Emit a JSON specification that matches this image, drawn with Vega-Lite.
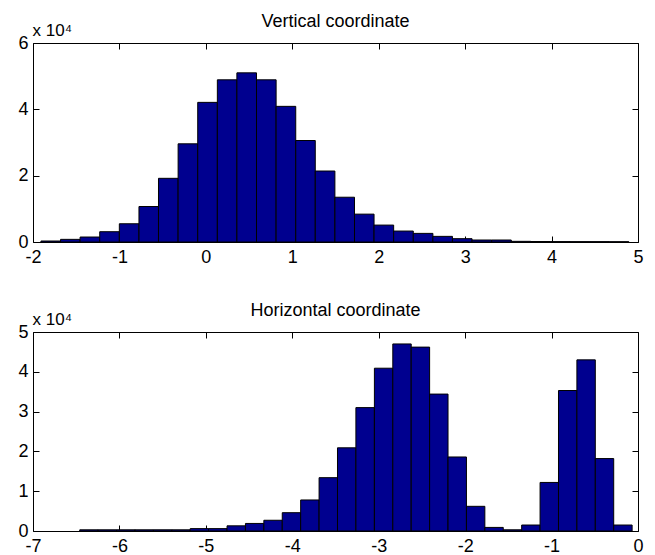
{
  "$schema": "https://vega.github.io/schema/vega-lite/v6.json",
  "background": "white",
  "padding": {"left": 17, "top": 12, "right": 10, "bottom": 0},
  "datasets": {
    "v": [
      {"x0": -1.908, "x1": -1.681, "count": 300},
      {"x0": -1.681, "x1": -1.455, "count": 800},
      {"x0": -1.455, "x1": -1.228, "count": 1500},
      {"x0": -1.228, "x1": -1.001, "count": 3100},
      {"x0": -1.001, "x1": -0.774, "count": 5500},
      {"x0": -0.774, "x1": -0.548, "count": 10700},
      {"x0": -0.548, "x1": -0.321, "count": 19200},
      {"x0": -0.321, "x1": -0.094, "count": 29600},
      {"x0": -0.094, "x1": 0.133, "count": 42100},
      {"x0": 0.133, "x1": 0.359, "count": 48900},
      {"x0": 0.359, "x1": 0.586, "count": 51000},
      {"x0": 0.586, "x1": 0.813, "count": 48900},
      {"x0": 0.813, "x1": 1.040, "count": 40900},
      {"x0": 1.040, "x1": 1.266, "count": 30600},
      {"x0": 1.266, "x1": 1.493, "count": 21400},
      {"x0": 1.493, "x1": 1.720, "count": 13500},
      {"x0": 1.720, "x1": 1.946, "count": 8400},
      {"x0": 1.946, "x1": 2.173, "count": 5100},
      {"x0": 2.173, "x1": 2.400, "count": 3300},
      {"x0": 2.400, "x1": 2.627, "count": 2600},
      {"x0": 2.627, "x1": 2.853, "count": 1700},
      {"x0": 2.853, "x1": 3.080, "count": 1000},
      {"x0": 3.080, "x1": 3.307, "count": 600},
      {"x0": 3.307, "x1": 3.534, "count": 600},
      {"x0": 3.534, "x1": 3.760, "count": 200},
      {"x0": 3.760, "x1": 3.987, "count": 150},
      {"x0": 3.987, "x1": 4.214, "count": 120},
      {"x0": 4.214, "x1": 4.441, "count": 100},
      {"x0": 4.441, "x1": 4.667, "count": 100},
      {"x0": 4.667, "x1": 4.894, "count": 80}
    ],
    "h": [
      {"x0": -6.459, "x1": -6.246, "count": 300},
      {"x0": -6.246, "x1": -6.033, "count": 300},
      {"x0": -6.033, "x1": -5.820, "count": 300},
      {"x0": -5.820, "x1": -5.607, "count": 300},
      {"x0": -5.607, "x1": -5.394, "count": 300},
      {"x0": -5.394, "x1": -5.181, "count": 300},
      {"x0": -5.181, "x1": -4.968, "count": 600},
      {"x0": -4.968, "x1": -4.755, "count": 600},
      {"x0": -4.755, "x1": -4.542, "count": 1300},
      {"x0": -4.542, "x1": -4.329, "count": 1900},
      {"x0": -4.329, "x1": -4.116, "count": 2700},
      {"x0": -4.116, "x1": -3.903, "count": 4600},
      {"x0": -3.903, "x1": -3.690, "count": 7800},
      {"x0": -3.690, "x1": -3.477, "count": 13400},
      {"x0": -3.477, "x1": -3.264, "count": 20900},
      {"x0": -3.264, "x1": -3.050, "count": 31000},
      {"x0": -3.050, "x1": -2.837, "count": 40900},
      {"x0": -2.837, "x1": -2.624, "count": 47000},
      {"x0": -2.624, "x1": -2.411, "count": 46200},
      {"x0": -2.411, "x1": -2.198, "count": 34400},
      {"x0": -2.198, "x1": -1.985, "count": 18600},
      {"x0": -1.985, "x1": -1.772, "count": 6200},
      {"x0": -1.772, "x1": -1.559, "count": 900},
      {"x0": -1.559, "x1": -1.346, "count": 300},
      {"x0": -1.346, "x1": -1.133, "count": 1500},
      {"x0": -1.133, "x1": -0.920, "count": 12200},
      {"x0": -0.920, "x1": -0.707, "count": 35300},
      {"x0": -0.707, "x1": -0.494, "count": 43000},
      {"x0": -0.494, "x1": -0.281, "count": 18200},
      {"x0": -0.281, "x1": -0.068, "count": 1500}
    ]
  },
  "config": {
    "font": "Liberation Sans",
    "view": {"stroke": "black", "strokeWidth": 1},
    "axis": {
      "grid": false,
      "domain": false,
      "tickColor": "black",
      "tickSize": -6,
      "labelColor": "black",
      "labelFontSize": 18,
      "labelFont": "Liberation Sans",
      "labelFlush": false,
      "labelOverlap": false,
      "labelBound": false
    },
    "axisX": {"labelPadding": 12},
    "axisY": {"labelPadding": 11},
    "title": {"fontSize": 18, "fontWeight": "normal", "font": "Liberation Sans", "color": "black", "frame": "group", "baseline": "alphabetic", "offset": -10},
    "concat": {"spacing": 34}
  },
  "vconcat": [
    {
      "width": 605,
      "height": 199,
      "title": {"text": "Vertical coordinate"},
      "data": {"name": "v"},
      "layer": [
        {
          "mark": {"type": "bar", "color": "#00008F", "stroke": "black", "strokeWidth": 1},
          "encoding": {
            "x": {"field": "x0", "type": "quantitative", "scale": {"domain": [-2, 5], "nice": false, "zero": false},
                  "axis": {"orient": "bottom", "values": [-2, -1, 0, 1, 2, 3, 4, 5], "title": null,
                           "labelExpr": "datum.value < 0 ? '-' + format(-datum.value, 'd') : format(datum.value, 'd')"}},
            "x2": {"field": "x1"},
            "y": {"field": "count", "type": "quantitative", "scale": {"domain": [0, 60000], "nice": false},
                  "axis": {"orient": "left", "values": [0, 20000, 40000, 60000], "labelExpr": "format(datum.value/10000, 'd')",
                           "title": "x 10⁴", "titleAngle": 0, "titleAlign": "left", "titleBaseline": "alphabetic",
                           "titleX": -1, "titleY": -8, "titleFontSize": 17, "titleFontWeight": "normal", "titleColor": "black"}},
            "y2": {"datum": 0}
          }
        },
        {
          "mark": {"type": "bar", "opacity": 0},
          "encoding": {
            "x": {"field": "x0", "type": "quantitative", "axis": {"orient": "top", "values": [-2, -1, 0, 1, 2, 3, 4, 5], "labels": false, "title": null}},
            "x2": {"field": "x1"},
            "y": {"field": "count", "type": "quantitative", "axis": {"orient": "right", "values": [0, 20000, 40000, 60000], "labels": false, "title": null}},
            "y2": {"datum": 0}
          }
        }
      ],
      "resolve": {"axis": {"x": "independent", "y": "independent"}}
    },
    {
      "width": 605,
      "height": 199,
      "title": {"text": "Horizontal coordinate"},
      "data": {"name": "h"},
      "layer": [
        {
          "mark": {"type": "bar", "color": "#00008F", "stroke": "black", "strokeWidth": 1},
          "encoding": {
            "x": {"field": "x0", "type": "quantitative", "scale": {"domain": [-7, 0], "nice": false, "zero": false},
                  "axis": {"orient": "bottom", "values": [-7, -6, -5, -4, -3, -2, -1, 0], "title": null,
                           "labelExpr": "datum.value < 0 ? '-' + format(-datum.value, 'd') : format(datum.value, 'd')"}},
            "x2": {"field": "x1"},
            "y": {"field": "count", "type": "quantitative", "scale": {"domain": [0, 50000], "nice": false},
                  "axis": {"orient": "left", "values": [0, 10000, 20000, 30000, 40000, 50000], "labelExpr": "format(datum.value/10000, 'd')",
                           "title": "x 10⁴", "titleAngle": 0, "titleAlign": "left", "titleBaseline": "alphabetic",
                           "titleX": -1, "titleY": -8, "titleFontSize": 17, "titleFontWeight": "normal", "titleColor": "black"}},
            "y2": {"datum": 0}
          }
        },
        {
          "mark": {"type": "bar", "opacity": 0},
          "encoding": {
            "x": {"field": "x0", "type": "quantitative", "axis": {"orient": "top", "values": [-7, -6, -5, -4, -3, -2, -1, 0], "labels": false, "title": null}},
            "x2": {"field": "x1"},
            "y": {"field": "count", "type": "quantitative", "axis": {"orient": "right", "values": [0, 10000, 20000, 30000, 40000, 50000], "labels": false, "title": null}},
            "y2": {"datum": 0}
          }
        }
      ],
      "resolve": {"axis": {"x": "independent", "y": "independent"}}
    }
  ]
}
